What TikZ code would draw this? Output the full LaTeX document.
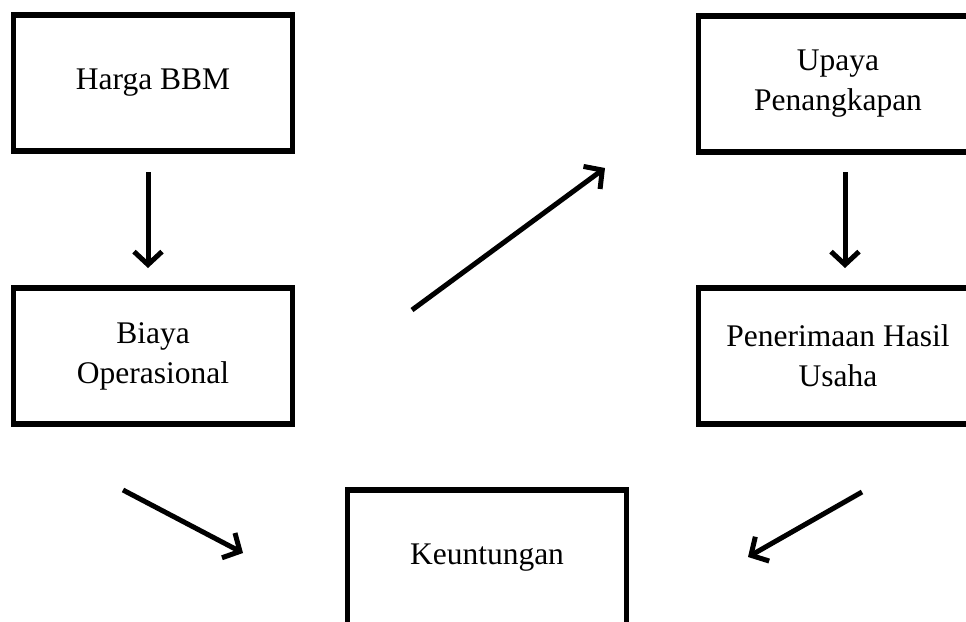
\documentclass[tikz,border=0pt]{standalone}
\usepackage{fontspec}
\setmainfont{Liberation Serif}
\usetikzlibrary{arrows.meta}

\begin{document}
\begin{tikzpicture}[x=1pt, y=-1pt,
  kotak/.style={draw, line width=5.5pt, minimum width=279pt, minimum height=136pt, align=center, inner sep=0pt, font=\fontsize{31.5}{40}\selectfont},
  panah/.style={line width=5pt, -{Straight Barb[length=13pt, width=28pt]}}]

\useasboundingbox (0,0) rectangle (966,621);
\clip (0,0) rectangle (966,621);

\node[kotak] (1) at (153, 83) {Harga BBM};
\node[kotak] (2) at (153, 356) {Biaya\\Operasional};
\node[kotak] (3) at (838, 84) {Upaya\\Penangkapan};
\node[kotak] (4) at (838, 356) {Penerimaan Hasil\\Usaha};
\node[kotak] (5) at (487, 558) {Keuntungan};

\coordinate (a) at (148, 172);
\coordinate (b) at (148, 268);
\draw[panah] (a) -- (b);

\coordinate (a) at (845, 172);
\coordinate (b) at (845, 268);
\draw[panah] (a) -- (b);

\coordinate (a) at (412, 310);
\coordinate (b) at (605, 168);
\draw[panah] (a) -- (b);

\coordinate (a) at (123, 490);
\coordinate (b) at (243, 553);
\draw[panah] (a) -- (b);

\coordinate (a) at (862, 492);
\coordinate (b) at (748, 557);
\draw[panah] (a) -- (b);

\end{tikzpicture}
\end{document}
